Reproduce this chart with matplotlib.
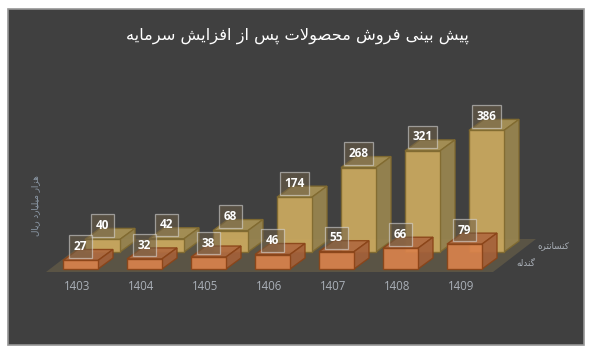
import matplotlib
matplotlib.use("Agg")
import matplotlib.pyplot as plt
from matplotlib.patches import Polygon, Rectangle

years = ["1403", "1404", "1405", "1406", "1407", "1408", "1409"]
pellet = [27, 32, 38, 46, 55, 66, 79]
concentrate = [40, 42, 68, 174, 268, 321, 386]

title = "پیش بینی فروش محصولات پس از افزایش سرمایه"
y_title = "هزار میلیارد ریال"
pellet_name = "گندله"
concentrate_name = "کنسانتره"

# glyph forms: isolated, final, initial, medial (only the letters used here)
FORMS = {
    "ا": "\ufe8d\ufe8e", "د": "\ufea9\ufeaa", "ر": "\ufead\ufeae", "ز": "\ufeaf\ufeb0",
    "و": "\ufeed\ufeee",
    "ب": "\ufe8f\ufe90\ufe91\ufe92", "پ": "\ufb56\ufb57\ufb58\ufb59",
    "ت": "\ufe95\ufe96\ufe97\ufe98", "ح": "\ufea1\ufea2\ufea3\ufea4",
    "س": "\ufeb1\ufeb2\ufeb3\ufeb4", "ش": "\ufeb5\ufeb6\ufeb7\ufeb8",
    "ص": "\ufeb9\ufeba\ufebb\ufebc", "ف": "\ufed1\ufed2\ufed3\ufed4",
    "ک": "\ufb8e\ufb8f\ufb90\ufb91", "گ": "\ufb92\ufb93\ufb94\ufb95",
    "ل": "\ufedd\ufede\ufedf\ufee0", "م": "\ufee1\ufee2\ufee3\ufee4",
    "ن": "\ufee5\ufee6\ufee7\ufee8", "ه": "\ufee9\ufeea\ufeeb\ufeec",
    "ی": "\ufbfc\ufbfd\ufbfe\ufbff",
}


def Shape(text: str) -> str:
    # matplotlib does not join arabic letters, so pick the forms here and reverse
    out = []
    for i, c in enumerate(text):
        if c not in FORMS:
            out.append(c)
            continue
        forms = FORMS[c]
        prev_joins = i > 0 and text[i - 1] in FORMS and len(FORMS[text[i - 1]]) == 4
        next_joins = i + 1 < len(text) and text[i + 1] in FORMS
        if len(forms) == 2:
            out.append(forms[1] if prev_joins else forms[0])
        elif prev_joins and next_joins:
            out.append(forms[3])
        elif prev_joins:
            out.append(forms[1])
        elif next_joins:
            out.append(forms[2])
        else:
            out.append(forms[0])
    # lam + alef ligature
    word = "".join(out).replace("\ufee0\ufe8e", "\ufefc").replace("\ufedf\ufe8e", "\ufefb")
    return word[::-1]


# pixel scales of the picture: one slot is 64 px, one unit of value about 0.315 px
SLOT = 64.0
PX_Y = 0.315
BAR_W = 35 / SLOT
DEPTH_X = 15 / SLOT
DEPTH_Y = 11 / PX_Y
BACK_X = 22 / SLOT
BACK_Y = 17 / PX_Y


def Box(ax, x, base, value, colors, z):
    # front, side and top faces of one oblique bar
    front, side, top, edge = colors
    xr = x + BAR_W
    h = base + value
    faces = [
        ([(x, h), (x + DEPTH_X, h + DEPTH_Y), (xr + DEPTH_X, h + DEPTH_Y), (xr, h)], top),
        ([(xr, base), (xr + DEPTH_X, base + DEPTH_Y), (xr + DEPTH_X, h + DEPTH_Y), (xr, h)], side),
        ([(x, base), (xr, base), (xr, h), (x, h)], front),
    ]
    for pts, color in faces:
        ax.add_patch(Polygon(pts, closed=True, facecolor=color, edgecolor=edge, linewidth=1.0,
                             alpha=0.92, zorder=z))


def Label(ax, x, base, value, z):
    ax.annotate(str(value), (x + BAR_W / 2, base + value), xytext=(0, 10), textcoords="offset points",
                ha="center", va="center", color="white", fontsize=8.5, fontweight="bold",
                family="Open Sans", zorder=z,
                bbox=dict(boxstyle="square,pad=0.4", facecolor="#6f6048", alpha=0.55,
                          edgecolor="#e0e0e0", linewidth=0.9))


fig = plt.figure(figsize=(5.92, 3.53), dpi=100, facecolor="white")
ax = fig.add_axes([0, 0, 1, 1])
ax.axis("off")
# x=0 is the left edge of the first front bar (63 px), y=0 its base (269 px)
ax.set_xlim(-63 / SLOT, (592 - 63) / SLOT)
ax.set_ylim((269 - 353) / PX_Y, 269 / PX_Y)


def PxX(px):
    return (px - 63) / SLOT


def PxY(px):
    return (269 - px) / PX_Y


ax.add_patch(Rectangle((PxX(7.5), PxY(344.5)), 576 / SLOT, 336 / PX_Y, facecolor="#404040",
                       edgecolor="#969696", linewidth=1.2, zorder=0))
ax.add_patch(Polygon([(PxX(46), PxY(272)), (PxX(493), PxY(272)), (PxX(536), PxY(239)), (PxX(89), PxY(239))],
                     closed=True, facecolor="#5a5445", edgecolor="none", zorder=1))

BACK_COLORS = ("#cdab60", "#9a8650", "#ab9456", "#806a30")
FRONT_COLORS = ("#d9824c", "#a4603a", "#b06a40", "#8a4418")

for i in range(len(years)):
    Box(ax, i + BACK_X, BACK_Y, concentrate[i], BACK_COLORS, 2)
for i in range(len(years)):
    Box(ax, i, 0, pellet[i], FRONT_COLORS, 3)
for i in range(len(years)):
    Label(ax, i + BACK_X, BACK_Y, concentrate[i], 4)
    Label(ax, i, 0, pellet[i], 5)
    ax.text(i + BAR_W / 2 - 3.5 / SLOT, PxY(286), years[i], ha="center", va="center", color="#aab0b8",
            fontsize=8.3, family="Open Sans")

ax.text(PxX(298), PxY(36), Shape(title), ha="center", va="center", color="white", fontsize=11.7,
        family="DejaVu Sans")
ax.text(PxX(36), PxY(206), Shape(y_title), ha="center", va="center", rotation=90, color="#8d9aa8",
        fontsize=6.3, family="DejaVu Sans")
ax.text(PxX(553), PxY(246), Shape(concentrate_name), ha="center", va="center", color="#aab0b8",
        fontsize=6.3, family="DejaVu Sans")
ax.text(PxX(526), PxY(263), Shape(pellet_name), ha="center", va="center", color="#aab0b8",
        fontsize=6.3, family="DejaVu Sans")

fig.savefig("out.png", dpi=100, facecolor="white")
plt.close(fig)
